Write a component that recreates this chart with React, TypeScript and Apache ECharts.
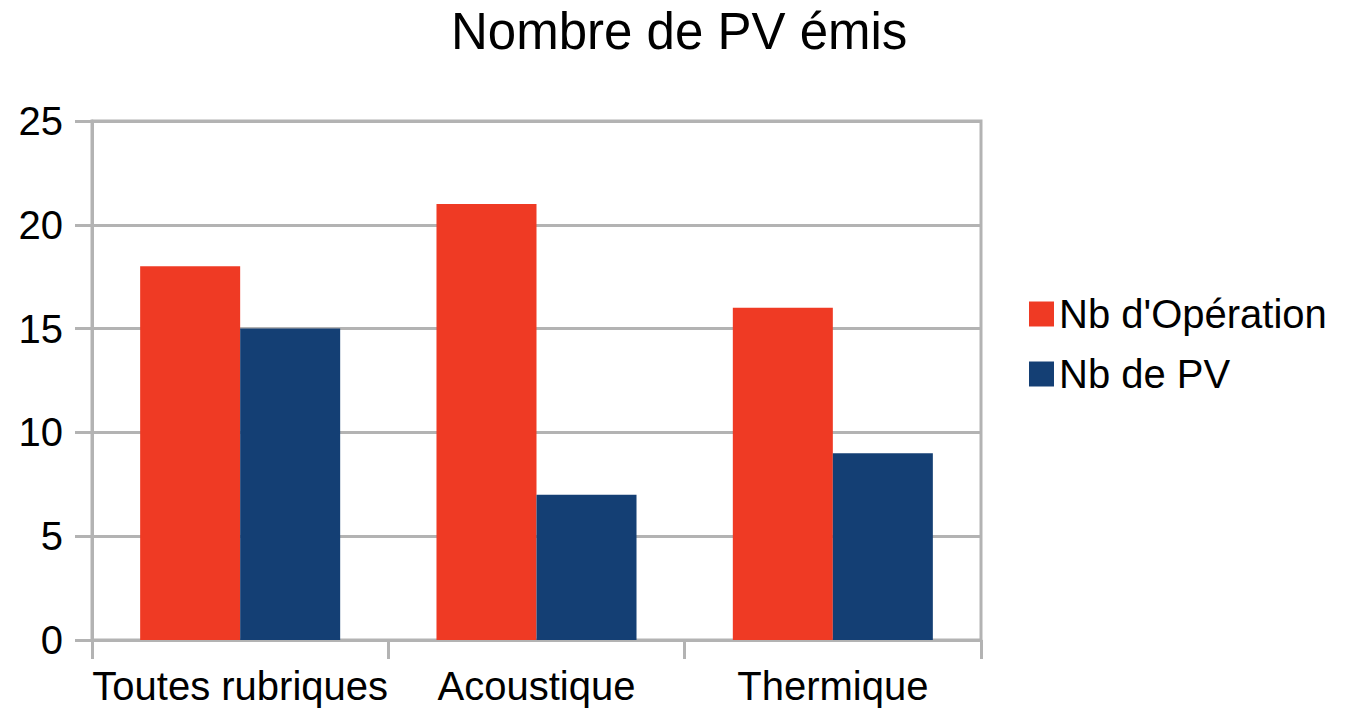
import React, { useEffect, useRef } from "react";
import * as echarts from "echarts";

const categories = ["Toutes rubriques", "Acoustique", "Thermique"];
const seriesNames = ["Nb d'Opération", "Nb de PV"];
const nbOperation = [18, 21, 16];
const nbPV = [15, 7, 9];
const titleText = "Nombre de PV émis";

const FONT = "'Liberation Sans', Arial, sans-serif";
const GRAY = "#b3b3b3";

export default function App() {
  const ref = useRef<HTMLDivElement>(null);
  useEffect(() => {
    if (!ref.current) return;
    const chart = echarts.init(ref.current, null, { renderer: "svg" });
    chart.setOption({
      animation: false,
      backgroundColor: "#ffffff",
      textStyle: { fontFamily: FONT },
      title: {
        text: titleText,
        left: 446,
        top: 1,
        textStyle: { fontFamily: FONT, fontSize: 51, fontWeight: "normal", color: "#000" },
      },
      legend: {
        orient: "vertical",
        left: 1024,
        top: 289,
        itemWidth: 25,
        itemHeight: 25,
        itemGap: 20,
        icon: "rect",
        textStyle: { fontFamily: FONT, fontSize: 40, color: "#000" },
        data: seriesNames,
      },
      grid: {
        left: 92,
        right: 367,
        top: 121,
        bottom: 75,
        show: true,
        borderColor: GRAY,
        borderWidth: 3,
        containLabel: false,
      },
      xAxis: {
        type: "category",
        data: categories,
        axisLine: { lineStyle: { color: GRAY, width: 3 } },
        axisTick: { show: true, interval: 0, length: 19, lineStyle: { color: GRAY, width: 3 } },
        axisLabel: { interval: 0, fontFamily: FONT, fontSize: 40, color: "#000", margin: 26 },
      },
      yAxis: {
        type: "value",
        min: 0,
        max: 25,
        interval: 5,
        axisLine: { show: true, lineStyle: { color: GRAY, width: 3 } },
        axisTick: { show: true, length: 17, lineStyle: { color: GRAY, width: 3 } },
        splitLine: { show: true, lineStyle: { color: GRAY, width: 3 } },
        axisLabel: { fontFamily: FONT, fontSize: 40, color: "#000", margin: 29 },
      },
      series: [
        {
          name: seriesNames[0],
          type: "bar",
          data: nbOperation,
          barGap: "0%",
          barCategoryGap: "32.5%",
          itemStyle: { color: "#EF3A24" },
        },
        {
          name: seriesNames[1],
          type: "bar",
          data: nbPV,
          barGap: "0%",
          barCategoryGap: "32.5%",
          itemStyle: { color: "#143F74" },
        },
      ],
    });
    return () => chart.dispose();
  }, []);
  return (
    <div
      ref={ref}
      style={{ position: "fixed", left: 0, top: 0, width: 1348, height: 715 }}
    />
  );
}
